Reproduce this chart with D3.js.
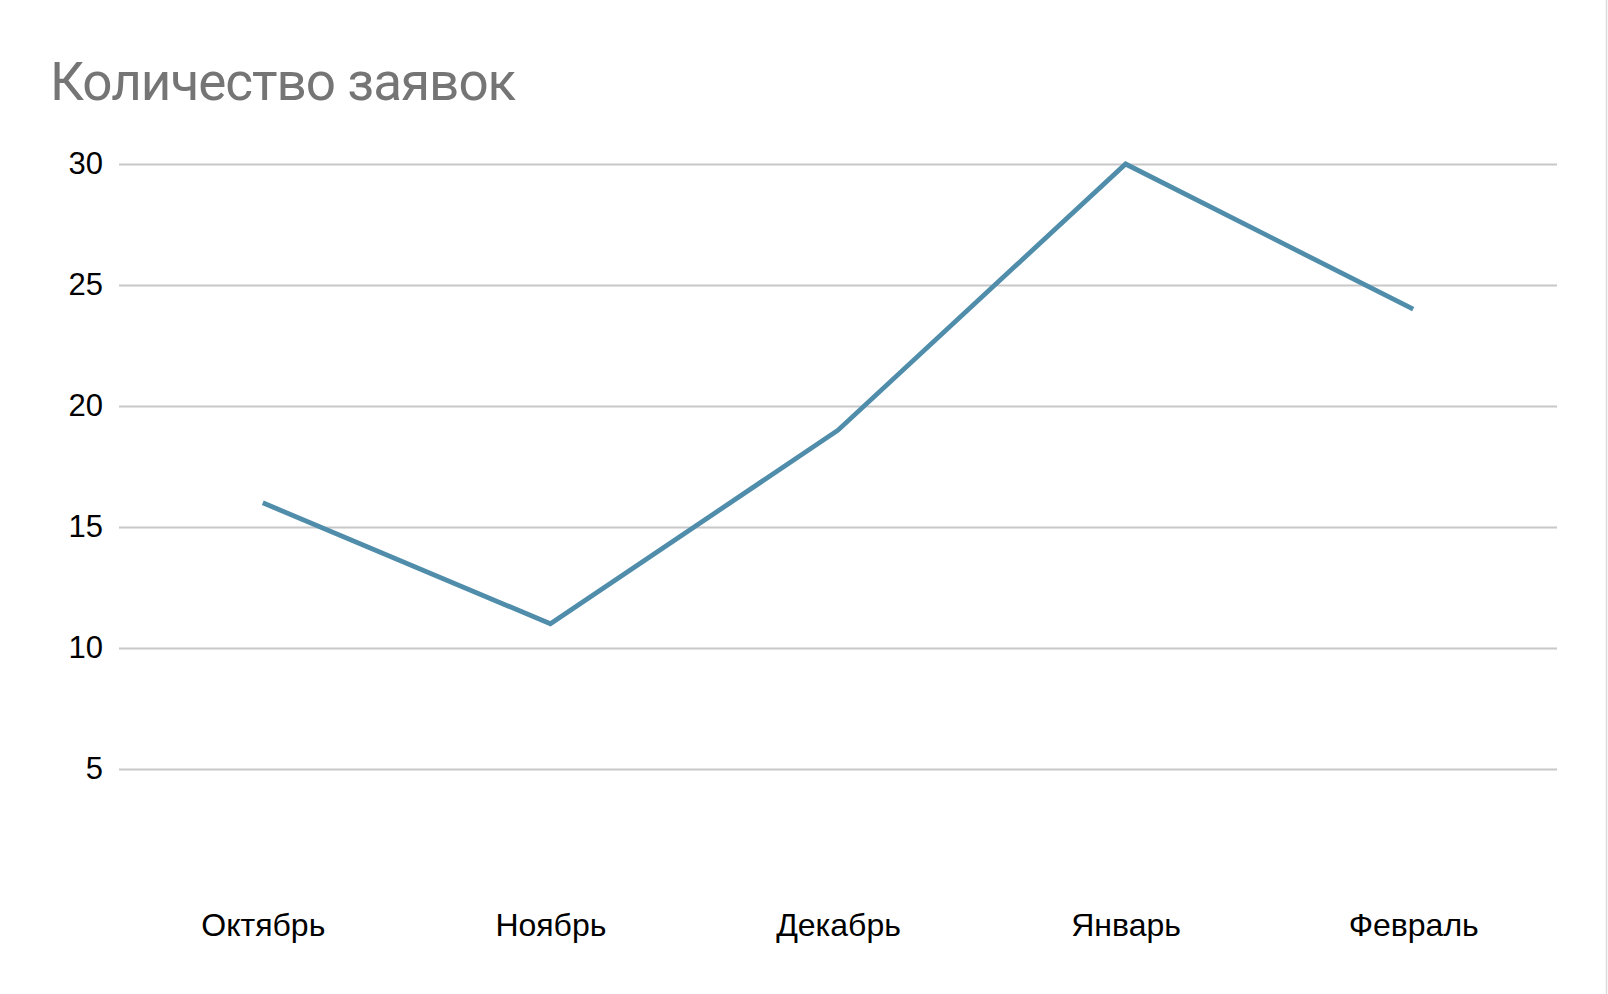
<!DOCTYPE html>
<html>
<head>
<meta charset="utf-8">
<script src="https://cdn.jsdelivr.net/npm/d3@7"></script>
<style>
  html, body { margin: 0; padding: 0; background: #fff; }
  svg { display: block; }
</style>
</head>
<body>
<svg id="chart"></svg>
<script>
const months = ["Октябрь", "Ноябрь", "Декабрь", "Январь", "Февраль"];
const requests = [16, 11, 19, 30, 24];
const yTicks = [5, 10, 15, 20, 25, 30];
const title = "Количество заявок";

const width = 1608, height = 994;
const margin = { top: 164, right: 51, bottom: 104, left: 119 };

const svg = d3.select("#chart")
  .attr("width", width)
  .attr("height", height);

svg.append("rect")
  .attr("width", width)
  .attr("height", height)
  .attr("fill", "#fff");

// thin frame line on the right edge
svg.append("line")
  .attr("x1", width - 1.5).attr("x2", width - 1.5)
  .attr("y1", 0).attr("y2", height)
  .attr("stroke", "#dadada")
  .attr("stroke-width", 1.5);

const x = d3.scalePoint()
  .domain(months)
  .range([margin.left, width - margin.right])
  .padding(0.5);

const y = d3.scaleLinear()
  .domain([0, 30])
  .range([height - margin.bottom, margin.top]);

// gridlines + y labels
const yAxis = svg.append("g")
  .attr("transform", `translate(${margin.left},0)`)
  .call(d3.axisLeft(y)
    .tickValues(yTicks)
    .tickSize(-(width - margin.left - margin.right))
    .tickPadding(16));
yAxis.select(".domain").remove();
yAxis.selectAll(".tick line")
  .attr("stroke", "#c8c8c8")
  .attr("stroke-width", 2);
yAxis.selectAll(".tick text")
  .attr("fill", "#000")
  .style("font-family", "'Liberation Sans', Arial, sans-serif")
  .style("font-size", "31px");

// x labels
const xAxis = svg.append("g")
  .attr("transform", `translate(0,${height - margin.bottom})`)
  .call(d3.axisBottom(x).tickSize(0).tickPadding(23));
xAxis.select(".domain").remove();
xAxis.selectAll(".tick text")
  .attr("fill", "#000")
  .style("font-family", "'Liberation Sans', Arial, sans-serif")
  .style("font-size", "32px");

// line
const line = d3.line()
  .x((d, i) => x(months[i]))
  .y(d => y(d));

svg.append("path")
  .datum(requests)
  .attr("fill", "none")
  .attr("stroke", "#4f8dab")
  .attr("stroke-width", 4.8)
  .attr("stroke-linejoin", "miter")
  .attr("d", line);

// title
svg.append("text")
  .attr("x", 50)
  .attr("y", 100)
  .attr("fill", "#757575")
  .style("font-family", "Roboto, sans-serif")
  .style("font-size", "53px")
  .style("letter-spacing", "-1px")
  .text(title);
</script>
</body>
</html>
